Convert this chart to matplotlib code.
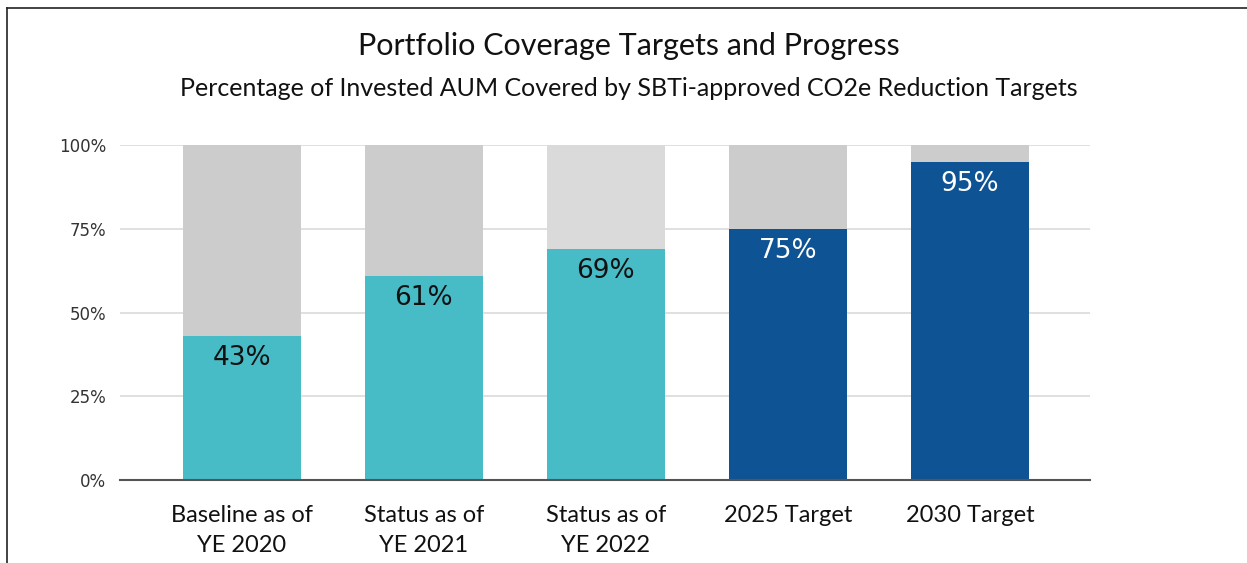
import matplotlib
matplotlib.use('Agg')
import matplotlib.pyplot as plt
from matplotlib.lines import Line2D

# data
categories = ['Baseline as of\nYE 2020', 'Status as of\nYE 2021', 'Status as of\nYE 2022',
              '2025 Target', '2030 Target']
covered = [43, 61, 69, 75, 95]
fill_colors = ['#47bbc6', '#47bbc6', '#47bbc6', '#0e5394', '#0e5394']
rest_colors = ['#cccccc', '#cccccc', '#dadada', '#cccccc', '#cccccc']
label_colors = ['#111111', '#111111', '#111111', '#ffffff', '#ffffff']
yticks = [0, 25, 50, 75, 100]

fig = plt.figure(figsize=(12.47, 5.63), dpi=100)
ax = fig.add_axes([120/1247, 1-480/563, (1090-120)/1247, (480-145)/563])

x = range(len(categories))
rest = [100 - v for v in covered]
ax.bar(x, covered, width=0.65, color=fill_colors, zorder=2)
ax.bar(x, rest, width=0.65, bottom=covered, color=rest_colors, zorder=2)

for i, v in enumerate(covered):
    ax.annotate('%d%%' % v, (i, v), xytext=(0, -16), textcoords='offset points',
                ha='center', va='center', fontsize=19, color=label_colors[i],
                family='DejaVu Sans')

ax.set_xlim(-0.67, 4.66)
ax.set_ylim(0, 100)
ax.set_yticks(yticks)
ax.set_yticklabels(['%d%%' % t for t in yticks], family='DejaVu Sans', fontsize=12, color='#333333')
ax.set_xticks(list(x))
ax.set_xticklabels(categories, fontsize=17, family='Lato', color='#111111', linespacing=1.55)
ax.tick_params(axis='y', length=0, pad=10)
ax.tick_params(axis='x', length=0, pad=18)
ax.grid(axis='y', color='#dddddd', linewidth=1.3, zorder=0)
for s in ['top', 'right', 'left']:
    ax.spines[s].set_visible(False)
ax.spines['bottom'].set_color('#555555')
ax.spines['bottom'].set_linewidth(1.5)
ax.spines['bottom'].set_zorder(3)

fig.text(629/1247, 1-46/563, 'Portfolio Coverage Targets and Progress', ha='center', va='center',
         fontsize=22, family='Lato', color='#111111')
fig.text(629/1247, 1-89/563, 'Percentage of Invested AUM Covered by SBTi-approved CO2e Reduction Targets',
         ha='center', va='center', fontsize=18, family='Lato', color='#111111')

# outer frame (left and top edges)
fig.add_artist(Line2D([7/1247, 7/1247], [0, 1-8/563], color='#222222', linewidth=1.2))
fig.add_artist(Line2D([7/1247, 1], [1-8/563, 1-8/563], color='#222222', linewidth=1.2))

fig.savefig('out.png', dpi=100)
